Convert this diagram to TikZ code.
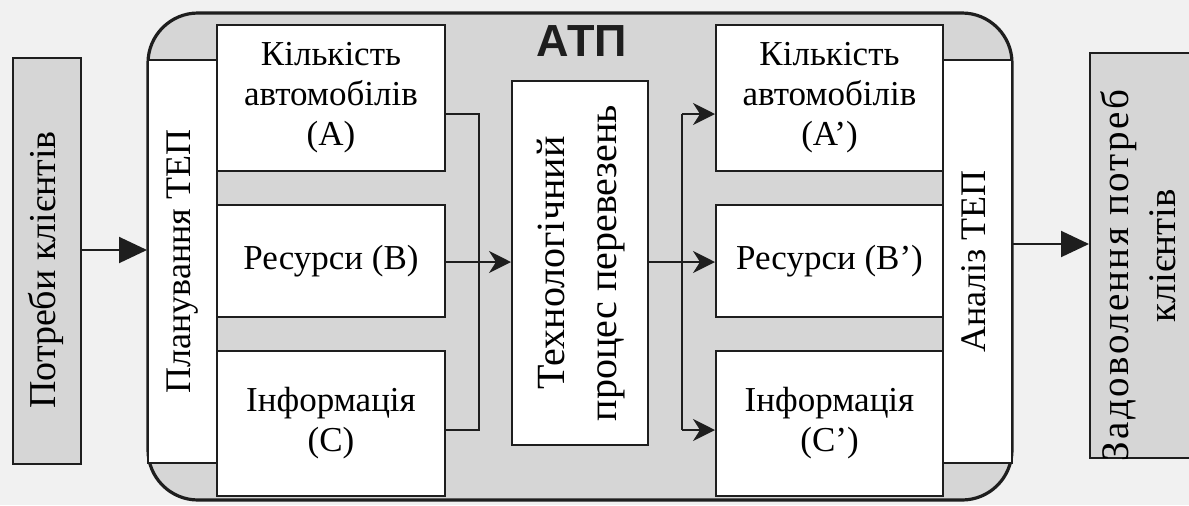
\documentclass[tikz,border=0pt]{standalone}
\usepackage{fontspec}
\usepackage{graphicx}
\setmainfont{Liberation Serif}
\newfontfamily\atpfont{Liberation Sans}
\usetikzlibrary{arrows.meta}
\definecolor{bgc}{HTML}{F1F1F1}
\definecolor{boxgray}{HTML}{D6D6D6}
\definecolor{linec}{HTML}{1E1E1E}
\tikzset{
  box/.style={draw=linec, line width=1pt, fill=white, inner sep=0pt, align=center,
    font=\fontsize{17.5}{20}\selectfont},
  graybox/.style={box, fill=boxgray},
  conn/.style={draw=linec, line width=1pt},
  smallarrow/.style={conn, -{Stealth[length=11pt,width=11pt,inset=3.5pt]}},
  bigarrow/.style={conn, -{Triangle[length=14pt,width=13pt]}},
}
% #1 font size, #2 line spacing, #3 text
\newcommand{\rtext}[3]{\rotatebox{90}{\fontsize{#1}{#2}\selectfont\begin{tabular}{@{}c@{}}#3\end{tabular}}}
\begin{document}
\begin{tikzpicture}[x=0.5pt,y=-0.5pt]
\fill[bgc] (0,0) rectangle (1189,505);
\useasboundingbox (0,0) rectangle (1189,505);
\clip (0,0) rectangle (1189,505);
% outer ATP
\node[draw=linec, line width=1.6pt, fill=boxgray, rounded corners=25pt, minimum width=432pt, minimum height=243.5pt, inner sep=0pt] (atp) at (580,256.5) {};
\node[font=\atpfont\bfseries\fontsize{22.5}{24}\selectfont, text=linec, inner sep=0pt] (atpl) at (582,41) {АТП};
% left column
\node[graybox, minimum width=34pt, minimum height=203pt] (need) at (47,261) {\rtext{19}{22}{Потреби клієнтів\kern9pt}};
\node[box, minimum width=34.5pt, minimum height=201.5pt] (plan) at (182.5,261.5) {\rtext{18}{21}{Планування ТЕП}};
\node[box, minimum width=114pt, minimum height=73pt] (la) at (331,98) {Кількість\\автомобілів\\(A)};
\node[box, minimum width=114pt, minimum height=56pt] (lb) at (331,261) {Ресурси (B)};
\node[box, minimum width=114pt, minimum height=72.5pt] (lc) at (331,423.5) {Інформація\\(C)};
% centre
\node[box, minimum width=68pt, minimum height=182pt] (tech) at (580,263) {\rtext{20}{26}{Технологічний\\процес перевезень}};
% right column
\node[box, minimum width=113.5pt, minimum height=73pt] (ra) at (829.5,98) {Кількість\\автомобілів\\(A’)};
\node[box, minimum width=113.5pt, minimum height=56pt] (rb) at (829.5,261) {Ресурси (B’)};
\node[box, minimum width=113.5pt, minimum height=72.5pt] (rc) at (829.5,423.5) {Інформація\\(C’)};
\node[box, minimum width=34.5pt, minimum height=201.5pt] (anal) at (977.5,261.5) {\rtext{18}{21}{Аналіз ТЕП}};
\node[graybox, minimum width=53pt, minimum height=202.5pt] (sat) at (1143,255.5) {\rtext{19.5}{23.5}{\makebox[0pt]{\addfontfeature{LetterSpace=6}Задоволення потреб\kern20pt}\\клієнтів}};
% connectors
\coordinate (y1) at (0,250);
\draw[bigarrow] (need.east |- y1) -- (plan.west |- y1);
\coordinate (ja) at (479,114);
\coordinate (jc) at (479,430);
\draw[conn] (la.east |- ja) -- (ja) -- (jc) -- (lc.east |- jc);
\draw[smallarrow] (lb.east |- 0,262) -- (tech.west |- 0,262);
\draw[smallarrow] (tech.east |- 0,262) -- (rb.west |- 0,262);
\coordinate (sa) at (682,114);
\coordinate (sc) at (682,430);
\draw[conn] (sa) -- (sc);
\draw[smallarrow] (sa) -- (ra.west |- sa);
\draw[smallarrow] (sc) -- (rc.west |- sc);
\coordinate (y2) at (0,244);
\draw[bigarrow] (anal.east |- y2) -- (sat.west |- y2);
\end{tikzpicture}
\end{document}
